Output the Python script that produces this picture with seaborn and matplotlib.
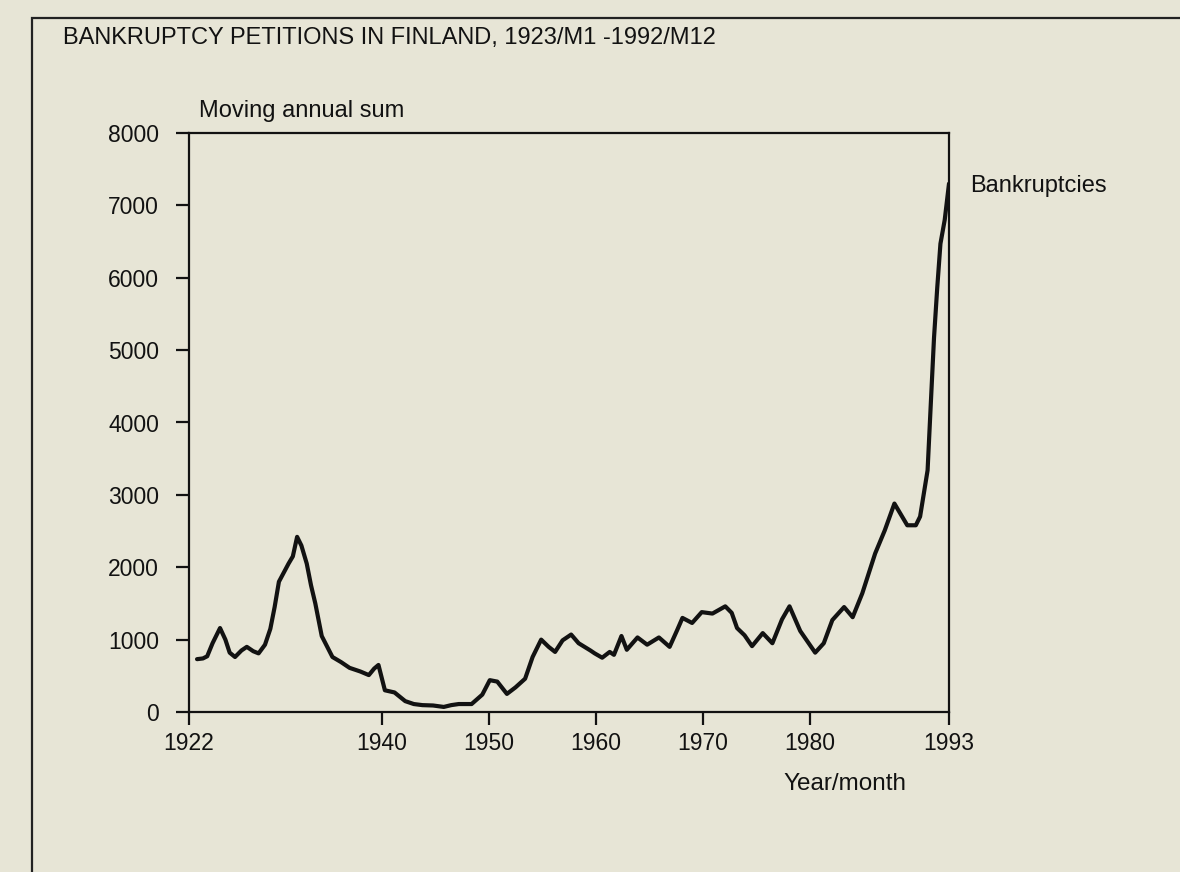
import matplotlib
matplotlib.use("Agg")
import matplotlib.pyplot as plt
import seaborn as sns
import pandas as pd
from matplotlib.patches import Rectangle

# ---- data (moving annual sum of bankruptcy petitions) ----
years = [1922.75, 1923.3, 1923.7, 1924.2, 1924.9, 1925.4, 1925.8, 1926.3, 1926.9, 1927.4,
         1928.0, 1928.5, 1929.1, 1929.6, 1930.0, 1930.4, 1931.3, 1931.7, 1932.1, 1932.5,
         1933.0, 1933.4, 1933.8, 1934.4, 1935.4, 1936.2, 1937.0, 1938.0, 1938.8, 1939.3,
         1939.7, 1940.3, 1941.2, 1942.2, 1943.0, 1943.8, 1944.8, 1945.8, 1946.5, 1947.2,
         1948.4, 1949.4, 1950.1, 1950.8, 1951.7, 1952.5, 1953.4, 1954.1, 1954.9, 1955.6,
         1956.2, 1956.9, 1957.7, 1958.4, 1959.5, 1959.9, 1960.6, 1961.3, 1961.7, 1962.4,
         1962.9, 1963.9, 1964.8, 1965.9, 1966.9, 1967.6, 1968.1, 1969.0, 1969.9, 1970.9,
         1972.1, 1972.7, 1973.2, 1973.9, 1974.6, 1975.6, 1976.5, 1977.4, 1978.1, 1979.1,
         1980.5, 1981.3, 1982.1, 1983.2, 1984.0, 1984.9, 1986.1, 1987.0, 1987.9, 1989.1,
         1989.9, 1990.3, 1991.0, 1991.3, 1991.6, 1991.9, 1992.2, 1992.6, 1993.0]
bankruptcies = [730, 740, 770, 950, 1160, 1000, 820, 760, 850, 900,
                840, 810, 930, 1150, 1450, 1800, 2050, 2150, 2420, 2300,
                2050, 1750, 1500, 1050, 760, 690, 610, 560, 510, 600,
                650, 300, 270, 150, 110, 95, 90, 70, 95, 110,
                110, 240, 440, 420, 250, 340, 460, 760, 1000, 900,
                830, 990, 1070, 950, 850, 810, 750, 830, 790, 1050,
                860, 1030, 930, 1030, 900, 1130, 1300, 1230, 1380, 1360,
                1460, 1370, 1160, 1060, 910, 1090, 950, 1280, 1460, 1120,
                820, 950, 1270, 1450, 1310, 1640, 2190, 2510, 2880, 2580,
                2580, 2700, 3340, 4260, 5170, 5860, 6470, 6800, 7300]

x_ticks = [1922, 1940, 1950, 1960, 1970, 1980, 1993]
y_ticks = [0, 1000, 2000, 3000, 4000, 5000, 6000, 7000, 8000]

title = "BANKRUPTCY PETITIONS IN FINLAND, 1923/M1 -1992/M12"
y_title = "Moving annual sum"
x_title = "Year/month"
series_label = "Bankruptcies"

# ---- style ----
paper = "#e7e5d6"
ink = "#121212"
sns.set_style("ticks", {"axes.facecolor": paper, "figure.facecolor": paper,
                        "axes.edgecolor": ink})
plt.rcParams["font.family"] = ["Liberation Sans", "DejaVu Sans"]

W, H = 1180, 872
fig = plt.figure(figsize=(W / 100, H / 100), dpi=100)
fig.patch.set_facecolor(paper)

# outer frame (left and top edges visible, rest runs off the page)
fig.add_artist(Rectangle((32 / W, -0.05), 1.2, 1 - 18 / H + 0.05,
                         transform=fig.transFigure, fill=False,
                         edgecolor="#222222", linewidth=1.6))

left, right, top, bottom = 189, 949, 133, 712
ax = fig.add_axes([left / W, 1 - bottom / H, (right - left) / W, (bottom - top) / H])
ax.set_facecolor(paper)

df = pd.DataFrame({"year": years, "value": bankruptcies})
sns.lineplot(data=df, x="year", y="value", ax=ax, color=ink, linewidth=3.0)

ax.set_xlim(1922, 1993)
ax.set_ylim(0, 8000)
ax.set_xticks(x_ticks)
ax.set_xticklabels([str(t) for t in x_ticks])
ax.set_yticks(y_ticks)
ax.set_yticklabels([str(t) for t in y_ticks])
ax.set_xlabel("")
ax.set_ylabel("")
for s in ax.spines.values():
    s.set_linewidth(1.6)
    s.set_color(ink)
ax.tick_params(axis="both", direction="out", length=9.5, width=1.6,
               color=ink, labelsize=16.5, labelcolor=ink)
ax.tick_params(axis="y", pad=12)
ax.tick_params(axis="x", pad=5)

fig.text(63 / W, 1 - 44 / H, title, fontsize=17, va="baseline", ha="left", color=ink)
fig.text(199 / W, 1 - 117 / H, y_title, fontsize=17, va="baseline", ha="left", color=ink)
fig.text(783 / W, 1 - 790 / H, x_title, fontsize=17.5, va="baseline", ha="left", color=ink)
fig.text(970 / W, 1 - 192 / H, series_label, fontsize=17, va="baseline", ha="left", color=ink)

fig.savefig("out.png", dpi=100, facecolor=paper)
